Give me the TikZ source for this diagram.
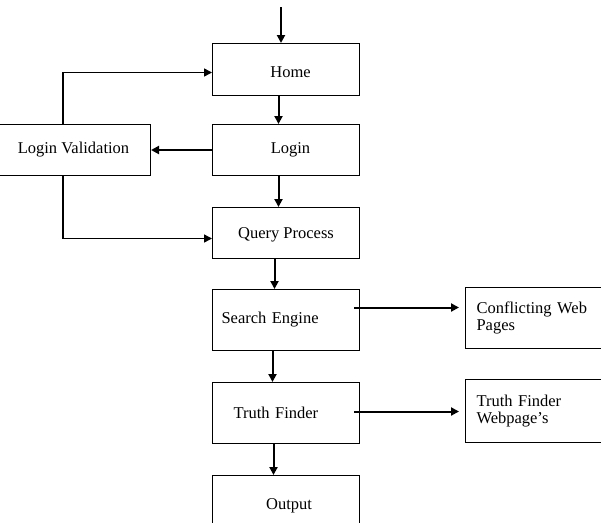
\documentclass[tikz,border=0pt]{standalone}
\usepackage{fontspec}
\setmainfont{Liberation Serif}
\usetikzlibrary{arrows.meta}
\begin{document}
\begin{tikzpicture}[x=1pt,y=-1pt,
  box/.style={draw,line width=1pt,anchor=north west,inner sep=0pt,
    font=\fontsize{16.5}{17}\selectfont},
  arr/.style={line width=2pt,-{Triangle[length=8pt,width=8pt]}},
  thin arr/.style={line width=1.5pt,-{Triangle[length=8pt,width=8pt]}}]
\useasboundingbox (0,0) rectangle (601,522);
\node[box,minimum width=147pt,minimum height=52pt,text width=129pt,align=center,inner xsep=9pt,text height=16pt] (home) at (212,43) {\hspace*{9pt}Home};
\node[box,minimum width=147pt,minimum height=51pt,text width=129pt,align=center,inner xsep=9pt] (login) at (212,124) {\hspace*{9pt}Login};
\node[box,minimum width=147pt,minimum height=51pt,text height=14pt] (query) at (212,207) {Query Process};
\node[box,minimum width=160pt,minimum height=51pt] (lv) at (-10,124) {\hspace*{6pt}Login Validation};
\node[box,minimum width=147pt,minimum height=61pt,text width=129pt,align=left,inner xsep=9pt] (se) at (212,289) {Search Engine};
\node[box,minimum width=147pt,minimum height=61pt,text width=105pt,align=left,inner xsep=21pt] (tf) at (212,382) {Truth Finder};
\node[box,minimum width=147pt,minimum height=60pt] (out) at (212,475) {\hspace*{6pt}Output};
\node[box,minimum width=150pt,minimum height=61pt,text width=128pt,align=left,inner xsep=11pt] (cwp) at (465,287) {Conflicting Web\\Pages};
\node[box,minimum width=150pt,minimum height=63pt,text width=128pt,align=left,inner xsep=11pt] (tfw) at (465,379) {Truth Finder\\Webpage's};
\coordinate (top) at (281,7);
\coordinate (lx) at (63,0);
\draw[arr] (top) -- (top |- home.north);
\draw[arr] ([xshift=-7.5pt]home.south) -- ([xshift=-7.5pt]login.north);
\draw[arr] ([xshift=-7.5pt]login.south) -- ([xshift=-7.5pt]query.north);
\draw[arr] (login.west) -- (lv.east);
\draw[thin arr] (lx |- lv.north) |- ([yshift=-3pt]home.west);
\draw[thin arr] (lx |- lv.south) |- ([yshift=-5.5pt]query.west);
\draw[arr] ([xshift=-11.5pt]query.south) -- ([xshift=-11.5pt]se.north);
\draw[arr] ([xshift=-13.5pt]se.south) -- ([xshift=-13.5pt]tf.north);
\draw[arr] ([xshift=-12.5pt]tf.south) -- ([xshift=-12.5pt]out.north);
\draw[arr] ([xshift=-6pt,yshift=12.5pt]se.east) -- ([xshift=-6pt,yshift=12.5pt]se.east -| cwp.west);
\draw[arr] ([xshift=-6pt,yshift=1.5pt]tf.east) -- ([xshift=-6pt,yshift=1.5pt]tf.east -| tfw.west);
\end{tikzpicture}
\end{document}
